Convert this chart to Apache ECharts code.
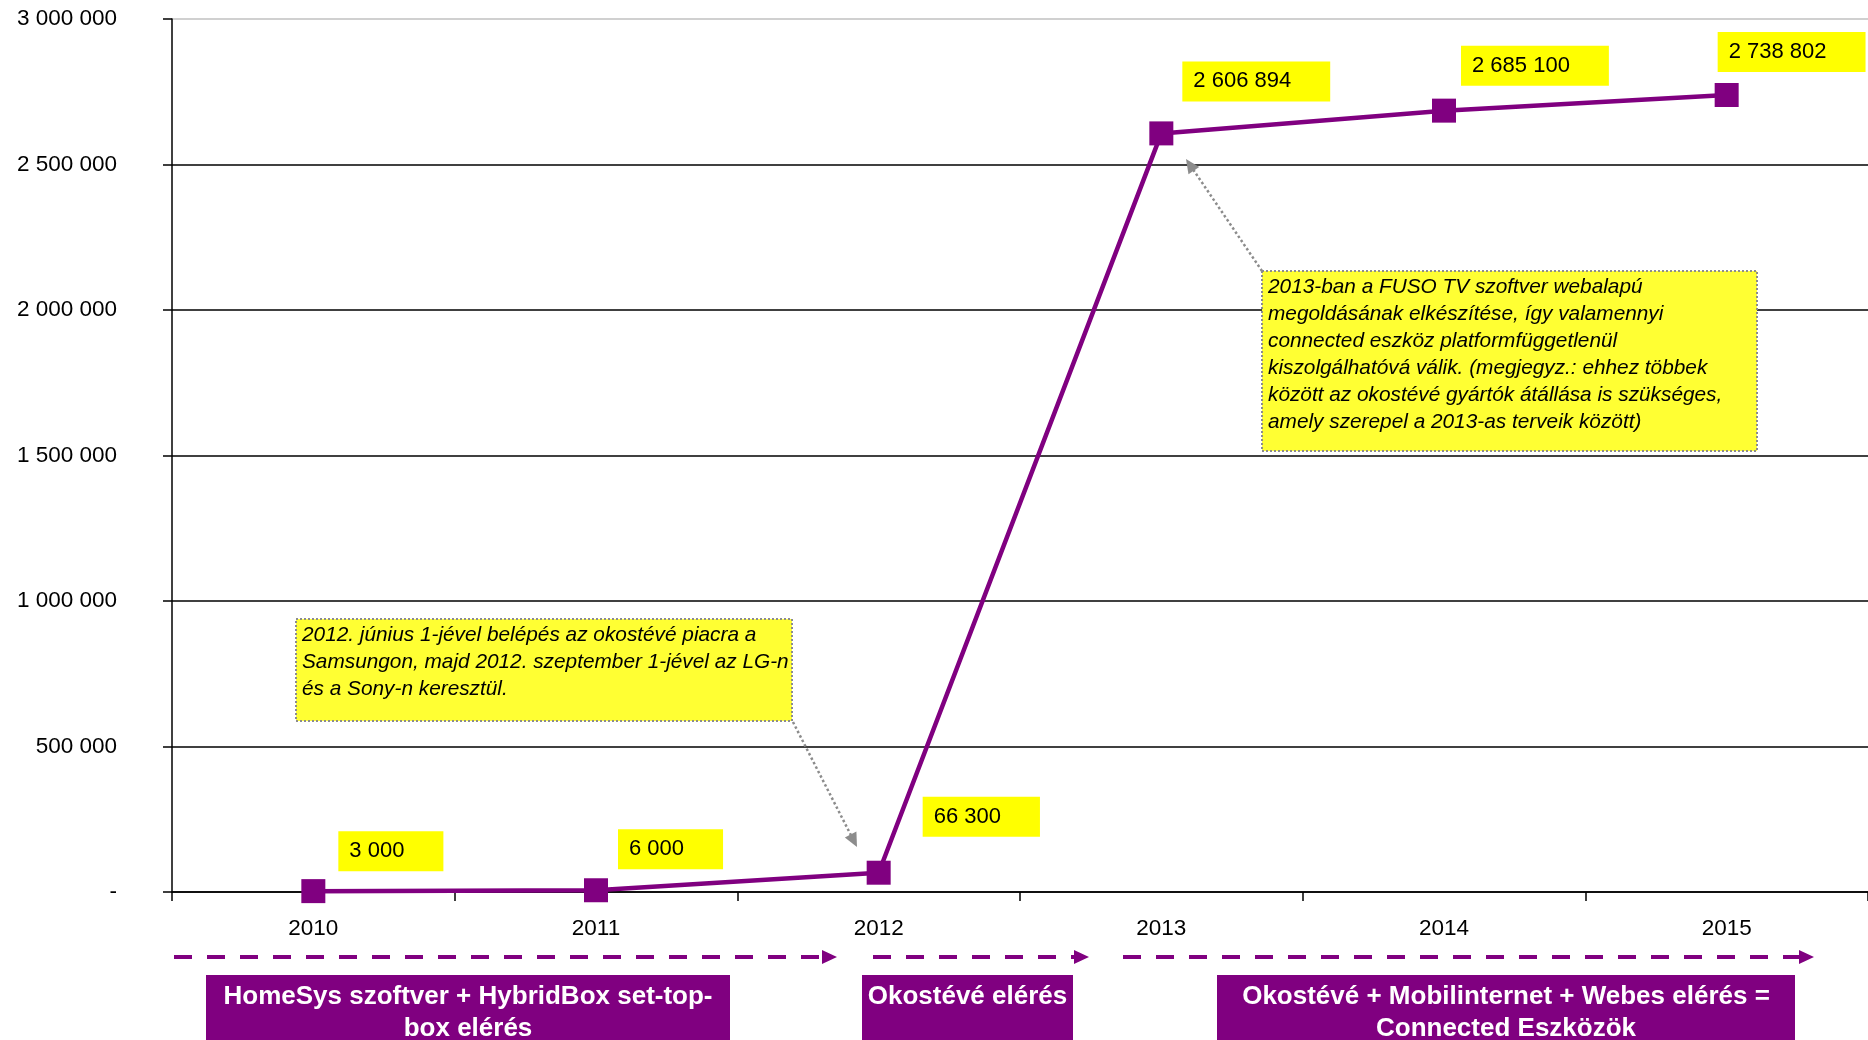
<!DOCTYPE html>
<html><head><meta charset="utf-8">
<script src="https://cdn.jsdelivr.net/npm/echarts@6/dist/echarts.min.js"></script>
<style>html,body{margin:0;padding:0;background:#fff}#c{width:1868px;height:1040px}</style>
</head><body><div id="c"></div><script>
const years = ['2010', '2011', '2012', '2013', '2014', '2015'];
const users = [3000, 6000, 66300, 2606894, 2685100, 2738802];
const yMin = 0, yMax = 3000000, yStep = 500000;
const note2012 = '2012. június 1-jével belépés az okostévé piacra a\nSamsungon, majd 2012. szeptember 1-jével az LG-n\nés a Sony-n keresztül.';
const note2013 = '2013-ban a FUSO TV szoftver webalapú\nmegoldásának elkészítése, így valamennyi\nconnected eszköz platformfüggetlenül\nkiszolgálhatóvá válik. (megjegyz.: ehhez többek\nközött az okostévé gyártók átállása is szükséges,\namely szerepel a 2013-as terveik között)';
const phases = ['HomeSys szoftver + HybridBox set-top-\nbox elérés', 'Okostévé elérés', 'Okostévé + Mobilinternet + Webes elérés =\nConnected Eszközök'];

// label placement (style only)
const labelPos = [[37, -48], [34, -49], [56, -64], [33, -60], [29, -53], [3, -51]];

const FONT = "'Liberation Sans', Arial, sans-serif";
const PURPLE = '#800080';
const fmt = v => v === 0 ? '-' : String(v).replace(/\B(?=(\d{3})+(?!\d))/g, ' ');

function arrowHead(x1, y1, x2, y2, len, half, color) {
  const dx = x2 - x1, dy = y2 - y1, L = Math.hypot(dx, dy);
  const ux = dx / L, uy = dy / L;
  const bx = x2 - ux * len, by = y2 - uy * len;
  const px = -uy * half, py = ux * half;
  return {
    type: 'polygon', z: 100,
    shape: { points: [[x2, y2], [bx + px, by + py], [bx - px, by - py]] },
    style: { fill: color }
  };
}
function dashedArrow(x1, x2, y) {
  return [
    { type: 'line', z: 100, shape: { x1: x1, y1: y, x2: x2 - 14, y2: y },
      style: { stroke: PURPLE, lineWidth: 4, lineDash: [18, 15] } },
    arrowHead(x1, y, x2, y, 15, 7, PURPLE)
  ];
}
function dottedArrow(x1, y1, x2, y2) {
  const dx = x2 - x1, dy = y2 - y1, L = Math.hypot(dx, dy);
  return [
    { type: 'line', z: 100, shape: { x1: x1, y1: y1, x2: x2 - dx / L * 12, y2: y2 - dy / L * 12 },
      style: { stroke: '#8c8c8c', lineWidth: 2.5, lineDash: [2.5, 2.5] } },
    arrowHead(x1, y1, x2, y2, 14, 6.5, '#8c8c8c')
  ];
}
function noteBox(x, y, w, h, text, tx, ty) {
  return [
    { type: 'rect', z: 100, shape: { x: x, y: y, width: w, height: h },
      style: { fill: '#ffff33', stroke: '#8c8c8c', lineWidth: 2, lineDash: [2, 2] } },
    { type: 'text', z: 101, x: tx, y: ty,
      style: { text: text, font: 'italic 20.8px ' + FONT, fill: '#000', lineHeight: 27,
               textAlign: 'left', textVerticalAlign: 'top' } }
  ];
}
function phaseBox(x, w, text) {
  return [
    { type: 'rect', z: 100, shape: { x: x, y: 975, width: w, height: 80 }, style: { fill: PURPLE } },
    { type: 'text', z: 101, x: x + w / 2, y: 981,
      style: { text: text, font: 'bold 26px ' + FONT, fill: '#fff', lineHeight: 32,
               textAlign: 'center', textVerticalAlign: 'top' } }
  ];
}

const graphics = [].concat(
  noteBox(296, 619, 496, 102, note2012, 302, 622),
  dottedArrow(793, 722, 857, 847),
  noteBox(1262, 271, 495, 180, note2013, 1268, 274),
  dottedArrow(1262, 271, 1186, 159),
  dashedArrow(174, 837, 957),
  dashedArrow(873, 1089, 957),
  dashedArrow(1123, 1814, 957),
  phaseBox(206, 524, phases[0]),
  phaseBox(862, 211, phases[1]),
  phaseBox(1217, 578, phases[2])
);

const chart = echarts.init(document.getElementById('c'), null, { renderer: 'canvas' });
chart.setOption({
  backgroundColor: '#fff',
  animation: false,
  grid: { left: 172, right: 0, top: 19, bottom: 148, containLabel: false },
  xAxis: {
    type: 'category', data: years, boundaryGap: true,
    axisLine: { show: true, lineStyle: { color: '#000', width: 1.5 } },
    axisTick: { show: true, length: 9, lineStyle: { color: '#000', width: 1.5 } },
    axisLabel: { color: '#000', fontSize: 22.5, fontFamily: FONT, margin: 25 },
    splitLine: { show: false }
  },
  yAxis: {
    type: 'value', min: yMin, max: yMax, interval: yStep,
    axisLine: { show: true, lineStyle: { color: '#000', width: 1.5 } },
    axisTick: { show: true, length: 9, lineStyle: { color: '#000', width: 1.5 } },
    axisLabel: { color: '#000', fontSize: 22.5, fontFamily: FONT, margin: 55, formatter: fmt },
    splitLine: { show: true, lineStyle: { color: ['#000', '#000', '#000', '#000', '#000', '#000', '#c0c0c0'], width: 1.5 } }
  },
  series: [{
    type: 'line',
    data: users.map((v, i) => ({ value: v, label: { position: labelPos[i] } })),
    symbol: 'rect', symbolSize: 24, showAllSymbol: true,
    lineStyle: { color: PURPLE, width: 4.5 },
    itemStyle: { color: PURPLE },
    label: {
      show: true, formatter: p => fmt(p.value), color: '#000', fontSize: 22, fontFamily: FONT,
      backgroundColor: '#ffff00', padding: [9, 39, 9, 11], align: 'left', verticalAlign: 'top'
    },
    z: 3
  }],
  graphic: graphics
});
</script></body></html>
